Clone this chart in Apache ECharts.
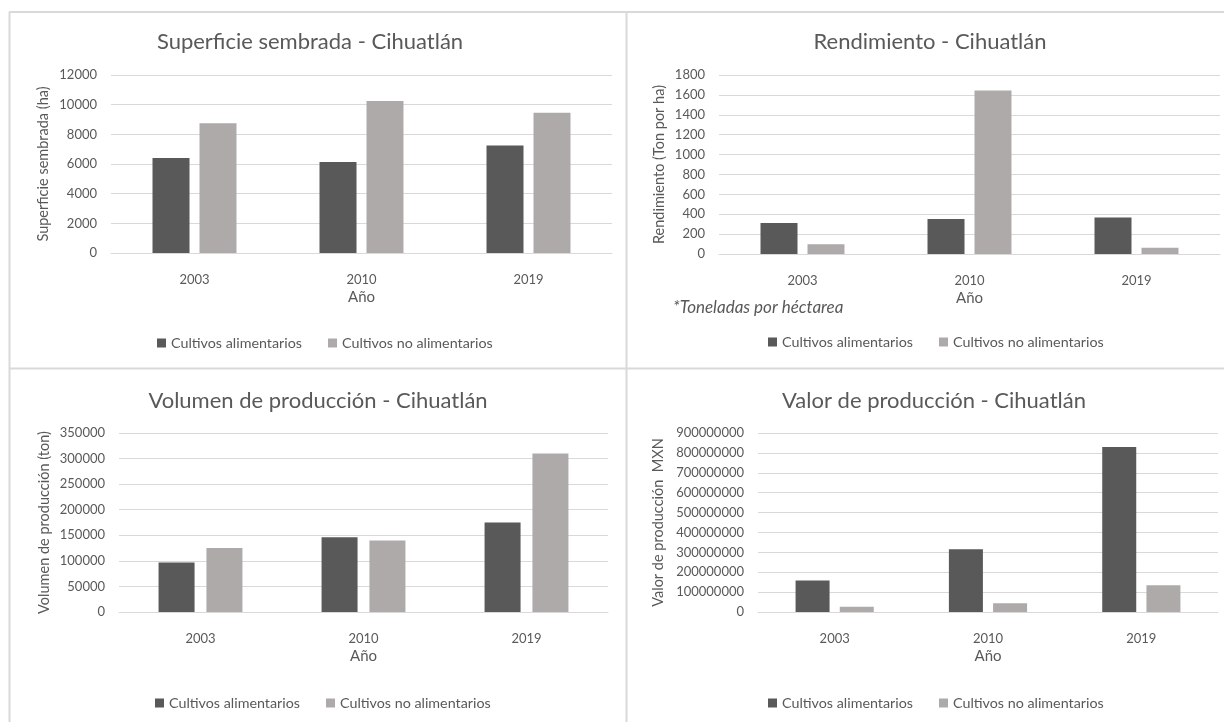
<!DOCTYPE html>
<html>
<head>
<meta charset="utf-8">
<script src="https://cdn.jsdelivr.net/npm/echarts@6/dist/echarts.min.js"></script>
<style>
  html, body { margin: 0; padding: 0; background: #fff; }
  #chart { width: 1224px; height: 722px; }
</style>
</head>
<body>
<div id="chart"></div>
<script>
// ---- Data ----
const years = ['2003', '2010', '2019'];
const seriesNames = ['Cultivos alimentarios', 'Cultivos no alimentarios'];

const superficieAlim = [6400, 6130, 7240];
const superficieNoAlim = [8750, 10250, 9450];

const rendimientoAlim = [311, 352, 368];
const rendimientoNoAlim = [97, 1645, 64];

const volumenAlim = [97000, 146000, 175000];
const volumenNoAlim = [125300, 139700, 310000];

const valorAlim = [159000000, 315000000, 830000000];
const valorNoAlim = [27000000, 43600000, 134000000];

const titles = [
  'Superficie sembrada - Cihuatlán',
  'Rendimiento - Cihuatlán',
  'Volumen de producción - Cihuatlán',
  'Valor de producción - Cihuatlán'
];
const yNames = [
  'Superficie sembrada (ha)',
  'Rendimiento (Ton por ha)',
  'Volumen de producción (ton)',
  'Valor de producción  MXN'
];
const xName = 'Año';
const note = '*Toneladas por héctarea';
const yMax = [12000, 1800, 350000, 900000000];
const yInterval = [2000, 200, 50000, 100000000];

// ---- Styling / layout ----
const FONT = 'Lato, "Open Sans", sans-serif';
const TXT = '#595959';
const DARK = '#595959';
const LIGHT = '#AEAAAA';
const GRIDLINE = '#D9D9D9';

const grids = [
  { left: 111, right: 612, top: 75, bottom: 469 },
  { left: 719, right: 4, top: 75, bottom: 468 },
  { left: 119, right: 616, top: 433, bottom: 110 },
  { left: 758, right: 6, top: 433, bottom: 110 }
];
const yNameGap = [60, 52, 67, 92];
const barW = [37, 37, 36, 34];
const barGaps = ['27%', '27%', '33%', '30%'];
const titlePos = [[310, 42], [930, 42], [318, 401], [934, 401]];
const legendPos = [[157, 344], [768, 343], [155, 704], [768, 704]];

const dataPairs = [
  [superficieAlim, superficieNoAlim],
  [rendimientoAlim, rendimientoNoAlim],
  [volumenAlim, volumenNoAlim],
  [valorAlim, valorNoAlim]
];

const xAxis = [], yAxis = [], series = [], legend = [], graphic = [];

for (let i = 0; i < 4; i++) {
  xAxis.push({
    type: 'category', gridIndex: i, data: years,
    name: xName, nameLocation: 'middle', nameGap: 37,
    nameTextStyle: { color: TXT, fontSize: 15, fontFamily: FONT },
    axisLine: { lineStyle: { color: GRIDLINE, width: 1 } },
    axisTick: { show: false },
    axisLabel: { color: TXT, fontSize: 13, fontFamily: FONT, margin: 20 }
  });
  yAxis.push({
    type: 'value', gridIndex: i, min: 0, max: yMax[i], interval: yInterval[i],
    name: yNames[i], nameLocation: 'middle', nameGap: yNameGap[i],
    nameTextStyle: { color: TXT, fontSize: 14.5, fontFamily: FONT },
    axisLine: { show: false }, axisTick: { show: false },
    axisLabel: { color: TXT, fontSize: 13, fontFamily: FONT, margin: 14,
                 formatter: v => String(v) },
    splitLine: { lineStyle: { color: GRIDLINE, width: 1 } }
  });
  series.push({
    name: seriesNames[0], type: 'bar', xAxisIndex: i, yAxisIndex: i,
    data: dataPairs[i][0], barWidth: barW[i], barGap: barGaps[i],
    itemStyle: { color: DARK }
  });
  series.push({
    name: seriesNames[1], type: 'bar', xAxisIndex: i, yAxisIndex: i,
    data: dataPairs[i][1], barWidth: barW[i], barGap: barGaps[i],
    itemStyle: { color: LIGHT }
  });
  legend.push({
    data: seriesNames, left: legendPos[i][0], top: legendPos[i][1] - 8,
    padding: 0, icon: 'rect', itemWidth: 9, itemHeight: 9, itemGap: 26,
    textStyle: { color: TXT, fontSize: 14.3, fontFamily: FONT },
    selectedMode: false
  });
  graphic.push({
    type: 'text', x: titlePos[i][0], y: titlePos[i][1], silent: true,
    style: { text: titles[i], fill: TXT, font: '22px ' + FONT,
             textAlign: 'center', textVerticalAlign: 'middle' }
  });
}

graphic.push({
  type: 'text', x: 673, y: 308, silent: true,
  style: { text: note, fill: TXT, font: 'italic 17px ' + FONT,
           textAlign: 'left', textVerticalAlign: 'middle' }
});
// panel frames
const frameLines = [
  [9, 12, 1224, 12], [9, 368.5, 1224, 368.5],
  [9.5, 12, 9.5, 722], [626.5, 12, 626.5, 722]
];
frameLines.forEach(l => graphic.push({
  type: 'line', silent: true,
  shape: { x1: l[0], y1: l[1], x2: l[2], y2: l[3] },
  style: { stroke: GRIDLINE, lineWidth: 2 }
}));

const chart = echarts.init(document.getElementById('chart'), null, { renderer: 'canvas' });
chart.setOption({
  animation: false,
  backgroundColor: '#ffffff',
  textStyle: { fontFamily: FONT },
  grid: grids,
  xAxis: xAxis,
  yAxis: yAxis,
  series: series,
  legend: legend,
  graphic: graphic
});
</script>
</body>
</html>
